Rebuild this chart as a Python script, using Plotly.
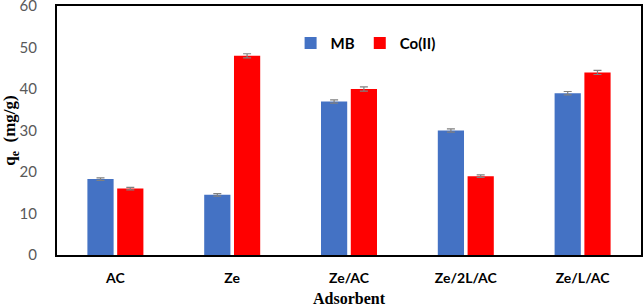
import plotly.graph_objects as go

categories = ["AC", "Ze", "Ze/AC", "Ze/2L/AC", "Ze/L/AC"]
mb_values = [18.3, 14.5, 37.0, 30.0, 39.0]
co_values = [16.0, 48.0, 40.0, 19.0, 44.0]
mb_err = [0.3, 0.3, 0.4, 0.4, 0.4]
co_err = [0.3, 0.5, 0.5, 0.3, 0.5]
y_ticks = [0, 10, 20, 30, 40, 50, 60]

fig = go.Figure()
fig.add_trace(go.Bar(
    name="MB", x=categories, y=mb_values,
    marker=dict(color="#4472C4", line=dict(width=0)),
    error_y=dict(type="data", array=mb_err, color="#808080", thickness=1.2, width=4),
))
fig.add_trace(go.Bar(
    name="Co(II)", x=categories, y=co_values,
    marker=dict(color="#FF0000", line=dict(width=0)),
    error_y=dict(type="data", array=co_err, color="#808080", thickness=1.2, width=4),
))

fig.update_layout(
    width=643, height=307,
    margin=dict(l=57, r=2, t=6, b=52, autoexpand=False),
    paper_bgcolor="white", plot_bgcolor="white",
    barmode="group", bargap=0.49, bargroupgap=0.12,
    showlegend=True,
    legend=dict(
        orientation="h", x=0.40, y=0.85, xanchor="left", yanchor="middle",
        font=dict(family="Lato, Open Sans", size=15, color="black", weight="bold"),
        itemwidth=30, tracegroupgap=0, bgcolor="rgba(0,0,0,0)",
    ),
    xaxis=dict(
        automargin=False,
        showline=True, linecolor="black", linewidth=2, mirror=True,
        tickfont=dict(family="Lato, Open Sans", size=14, color="black", weight="bold"),
        ticklabelstandoff=9,
        title=dict(text="<b>Adsorbent</b>", font=dict(family="Liberation Serif", size=16, color="black"), standoff=12),
    ),
    yaxis=dict(
        automargin=False,
        range=[0, 60], tickvals=y_ticks,
        showline=True, linecolor="black", linewidth=2, mirror=True,
        showgrid=False, zeroline=False,
        tickfont=dict(family="Lato, Open Sans", size=15, color="#595959"),
        ticklabelstandoff=15, ticklabeloverflow="allow",
        title=dict(text="<b>q<sub>e</sub>  (mg/g)</b>", font=dict(family="Liberation Serif", size=17, color="black"), standoff=4),
    ),
)

fig.write_html("out.html", config={"displayModeBar": False},
               post_script="document.body.style.margin='0px';")
